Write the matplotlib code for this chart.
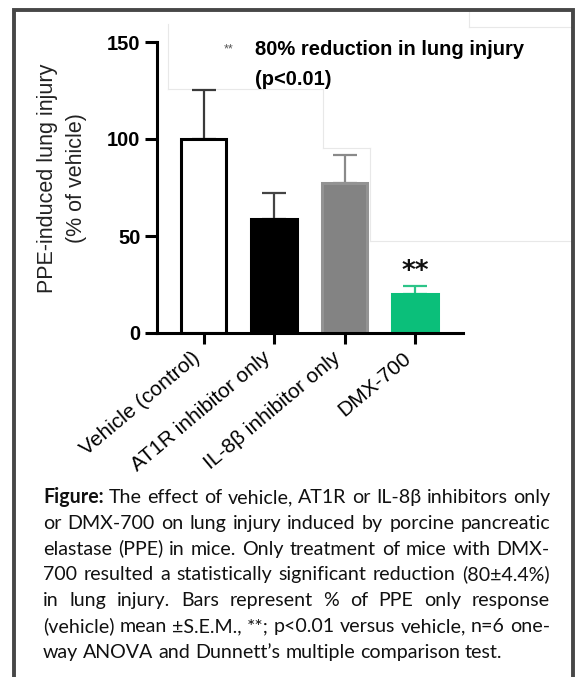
"""
PPE-induced lung injury bar chart with justified figure caption.
"""
import matplotlib
matplotlib.use("Agg")
import matplotlib.pyplot as plt
import matplotlib.transforms as mtransforms
from matplotlib.lines import Line2D
from matplotlib.patches import Rectangle

# data
groups = ["Vehicle (control)", "AT1R inhibitor only", "IL-8\u03b2 inhibitor only", "DMX-700"]
means = [100, 59, 77.5, 20]
sems = [25, 13, 14.5, 4.4]
bar_colors = ["white", "black", "#838383", "#0bbf7a"]
edge_colors = ["black", "black", "#939393", "#0bbf7a"]
err_colors = ["#3a3a3a", "#444444", "#8a8a8a", "#2cc488"]
star_label = "**"
star_group = 3
yticks = [0, 50, 100, 150]

caption_lines = [
    "The effect of vehicle, AT1R or IL-8\u03b2 inhibitors only",
    "or DMX-700 on lung injury induced by porcine pancreatic",
    "elastase (PPE) in mice. Only treatment of mice with DMX-",
    "700 resulted a statistically significant reduction (80\u00b14.4%)",
    "in lung injury. Bars represent % of PPE only response",
    "(vehicle) mean \u00b1S.E.M., **; p<0.01 versus vehicle, n=6 one-",
    "way ANOVA and Dunnett\u2019s multiple comparison test.",
]

W, H = 575, 677
plt.rcParams["font.family"] = ["Liberation Sans", "DejaVu Sans"]

fig = plt.figure(figsize=(W / 100, H / 100), dpi=100)
fig.patch.set_facecolor("white")


def fx(px):
    return px / W


def fy(py):
    return 1 - py / H


ax = fig.add_axes([fx(157), fy(333), fx(463) - fx(157), fy(42) - fy(333)])
x = list(range(len(groups)))
ax.bar(x, means, width=0.64, color=bar_colors, edgecolor=edge_colors,
       linewidth=2.2, zorder=2)
for i in x:
    ax.errorbar(i, means[i], yerr=[[0], [sems[i]]], fmt="none",
                ecolor=err_colors[i], elinewidth=1.6, capsize=8.5,
                capthick=1.6, zorder=1)
ax.text(star_group, means[star_group] + sems[star_group] + 0.5, star_label,
        ha="center", va="bottom", fontsize=19, fontweight="bold",
        family=["DejaVu Sans"], color="#111111")

ax.set_xlim(-0.66, 3.68)
ax.set_ylim(0, 150)
ax.set_yticks(yticks)
ax.set_yticklabels([str(v) for v in yticks], fontsize=14.5, fontweight="bold")
ax.set_xticks(x)
ax.set_xticklabels(groups, rotation=40, ha="right", fontsize=15)
offset = mtransforms.ScaledTranslation(8 / 100, 0, fig.dpi_scale_trans)
for lab in ax.get_xticklabels():
    lab.set_transform(lab.get_transform() + offset)
for s in ["top", "right"]:
    ax.spines[s].set_visible(False)
for s in ["left", "bottom"]:
    ax.spines[s].set_linewidth(2.2)
ax.tick_params(axis="y", length=9, width=2.2, pad=3)
ax.tick_params(axis="x", length=8, width=2.2, pad=3)
ax.patch.set_alpha(0)

fig.text(fx(62), fy(178), "PPE-induced lung injury\n(% of vehicle)",
         rotation=90, ha="center", va="center", fontsize=15.5,
         linespacing=1.45, color="#222222")

# note at top right
fig.text(fx(224), fy(52), "**", fontsize=9, color="#555555", va="baseline")
fig.text(fx(255), fy(55), "80% reduction in lung injury", fontsize=14.5,
         fontweight="bold", va="baseline")
fig.text(fx(255), fy(85), "(p<0.01)", fontsize=14.5, fontweight="bold",
         va="baseline")

# faint seams from pasted panels
seams = [((168, 24), (168, 89)), ((168, 89), (323, 89)), ((323, 89), (323, 148)),
         ((323, 148), (370, 148)), ((370, 148), (370, 241)), ((370, 241), (571, 241)),
         ((469, 10), (469, 27)), ((469, 27), (571, 27))]
for (x0, y0), (x1, y1) in seams:
    fig.add_artist(Line2D([fx(x0), fx(x1)], [fy(y0), fy(y1)], color="#e8e8e8",
                          lw=0.8, transform=fig.transFigure, zorder=0))

# caption, justified like the source
cap_font = dict(family=["Lato", "DejaVu Sans"], fontsize=14.1, color="#111111")
left, right = 43, 550
baseline0, step = 503, 25.8
renderer = fig.canvas.get_renderer()
probe_a = fig.text(0, 0, "a a", **cap_font)
probe_b = fig.text(0, 0, "aa", **cap_font)
space_w = (probe_a.get_window_extent(renderer).width
           - probe_b.get_window_extent(renderer).width)
probe_a.remove()
probe_b.remove()
for n, line in enumerate(caption_lines):
    yb = fy(baseline0 + n * step)
    items = [(w, "normal") for w in line.split(" ")]
    if n == 0:
        items = [("Figure:", "bold")] + items
    texts = [fig.text(0, yb, w, fontweight=wt, va="baseline", ha="left", **cap_font)
             for w, wt in items]
    widths = [t.get_window_extent(renderer).width for t in texts]
    if n == len(caption_lines) - 1:
        gap = space_w
    else:
        gap = (right - left - sum(widths)) / (len(widths) - 1)
    pos = left
    for t, wd in zip(texts, widths):
        t.set_x(fx(pos))
        pos += wd + gap

# outer frame
fig.add_artist(Rectangle((fx(14), fy(700)), fx(573) - fx(14), fy(10) - fy(700),
                         fill=False, edgecolor="#474747", lw=2.8,
                         transform=fig.transFigure, clip_on=False))

fig.savefig("out.png", dpi=100)
plt.close(fig)
